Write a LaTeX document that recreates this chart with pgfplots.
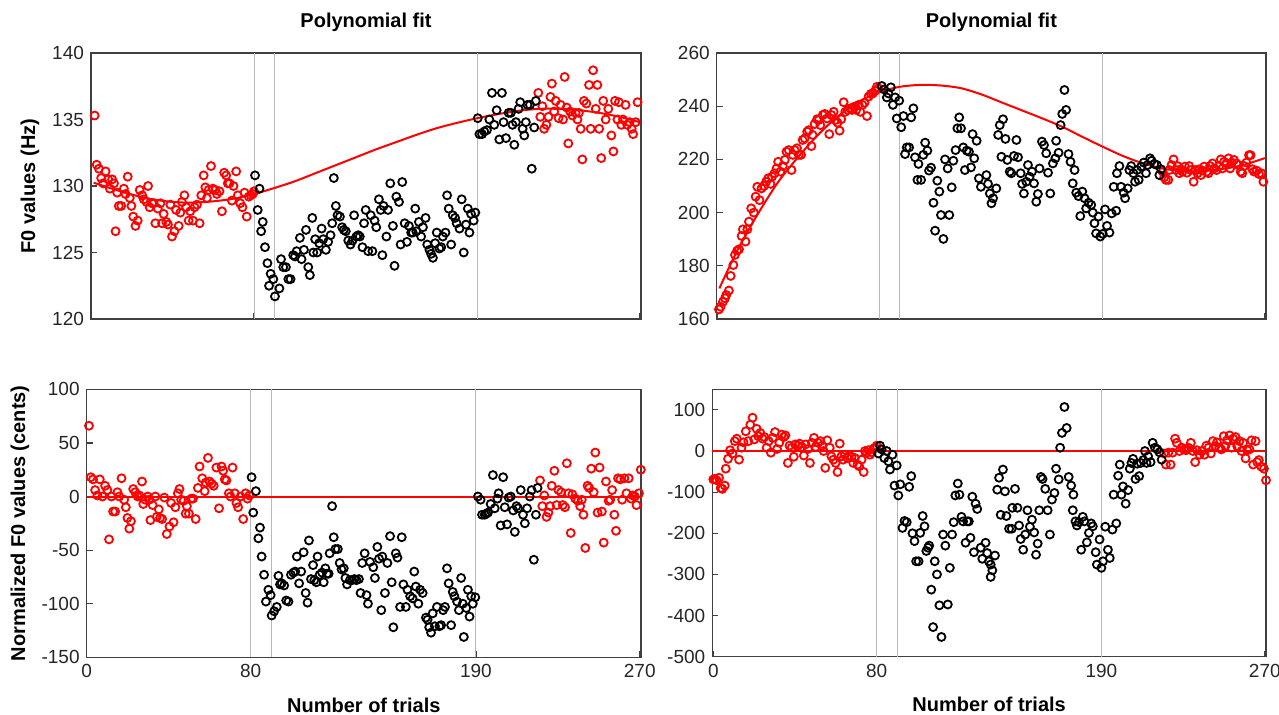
\documentclass[border=0pt]{standalone}
\usepackage{fontspec}
\setmainfont{Liberation Sans}
\usepackage{pgfplots}
\pgfplotsset{compat=1.18}
\pgfplotsset{
  myax/.style={
    scale only axis, anchor=north west,
    xmin=-0.3, xmax=270.6,
    xtick={0,80,190,270},
    tick align=inside, tick pos=left, major tick length=3pt,
    axis line style={black!75, line width=0.7pt},
    every tick/.style={black!75, line width=0.6pt},
    clip=false,
    every axis title shift=0pt,
    /pgf/number format/assume math mode=true,
    ticklabel style={font=\fontsize{9.5}{11}\selectfont, text=black!85},
    label style={font=\bfseries\fontsize{10}{12}\selectfont},
    title style={font=\bfseries\fontsize{10}{12}\selectfont},
  },
  vl/.style={gray!55, line width=0.5pt, forget plot},
  rpt/.style={only marks, mark=o, mark size=2pt, red, line width=0.9pt, mark options={line width=0.9pt}},
  kpt/.style={only marks, mark=o, mark size=2pt, black, line width=0.9pt, mark options={line width=0.9pt}},
  fit/.style={red, line width=1pt, no marks, smooth},
}
\begin{document}
\begin{tikzpicture}
\path[use as bounding box] (0pt,0pt) rectangle (639.5pt,-357pt);

% ---------------- top left
\begin{axis}[myax, at={(45.5pt,-26.5pt)}, width=275pt, height=133pt,
  ymin=120, ymax=140, ytick={120,125,130,135,140}, xticklabels={},
  title={Polynomial fit}, title style={at={(axis description cs:0.5,1.1165)}, anchor=center},
  ylabel={F0 values (Hz)}, ylabel style={at={(axis description cs:-0.111,0.5)}, anchor=center}]
\addplot[vl] coordinates {(80,120) (80,140)};
\addplot[vl] coordinates {(90,120) (90,140)};
\addplot[vl] coordinates {(190,120) (190,140)};
\addplot[rpt] coordinates {(1.5,135.3)(2.5,131.6)(3.6,131.3)(4.7,130.6)(5.7,130.2)(6.9,131.1)(8.2,130.5)(9.0,129.8)(10.1,130.5)(11.0,130.2)(11.8,126.6)(12.6,129.5)(13.4,128.5)(14.6,128.5)(15.9,129.8)(16.7,129.4)(17.8,130.7)(18.8,129.1)(19.6,128.5)(20.5,127.7)(21.6,127.0)(22.7,127.4)(23.7,129.7)(24.9,129.3)(25.7,129.0)(27.0,128.8)(27.8,130.0)(28.6,128.4)(29.8,128.7)(30.6,128.7)(31.4,127.2)(32.6,128.3)(33.9,128.7)(34.7,127.2)(35.5,127.9)(36.8,127.3)(37.6,127.1)(38.8,128.6)(39.6,126.2)(40.8,126.6)(41.6,128.2)(42.9,127.0)(43.7,128.0)(44.5,128.8)(45.7,129.3)(46.6,128.4)(47.8,127.4)(48.6,128.1)(49.9,127.4)(50.7,128.4)(51.9,128.6)(53.2,127.2)(54.0,129.3)(55.2,130.8)(56.0,129.9)(56.8,129.1)(57.6,129.7)(58.8,131.5)(59.7,129.8)(60.9,129.7)(61.7,129.4)(63.0,129.6)(64.2,128.1)(65.3,131.0)(66.3,130.8)(67.1,130.2)(67.9,130.2)(69.1,128.9)(69.9,130.0)(71.2,131.1)(72.0,129.3)(73.2,128.7)(74.3,128.4)(75.3,129.5)(76.4,127.7)(77.4,129.2)(78.4,129.3)(79.4,129.4)(80.0,129.6)
(220,137.0)(221,135.2)(222,136.0)(222.9,134.3)(224,134.6)(225,135.2)(226,136.7)(226.7,137.7)(227.8,135.6)(228.6,136.4)(230,135.1)(231,136.1)(232.2,135.0)(233,138.2)(234,135.9)(234.8,133.2)(235.7,135.6)(236.8,135.3)(238.4,135.5)(239.3,135.0)(240,135.5)(240.9,134.3)(241.7,132.0)(242.5,136.4)(243.7,136.2)(245,137.6)(245.8,134.3)(247,138.7)(248.3,135.8)(249.1,137.6)(250,134.3)(251,132.1)(252,136.4)(253.2,135.0)(254.5,135.8)(256,133.8)(257,132.6)(257.8,136.4)(259,135.0)(259.7,136.3)(260.9,134.6)(261.7,135.0)(263,136.1)(263.8,134.6)(265,134.8)(266,134.3)(266.7,133.9)(268,134.8)(268.9,136.3)};
\addplot[kpt] coordinates {(80.5,130.8)(82.7,129.8)(81.8,128.2)(84.3,127.3)(83.5,126.6)(85.4,125.4)(86.6,124.2)(88.2,123.4)(87.4,122.5)(90.3,121.7)(89.5,123.0)(92.5,122.3)(93.3,124.5)(94.4,123.9)(95.7,123.9)(96.9,123.0)(98.0,123.0)(99.3,124.8)(100.2,124.7)(101.0,125.1)(102.6,126.1)(103.4,124.5)(104.6,125.2)(105.6,126.7)(106.7,123.9)(107.5,123.3)(108.7,127.6)(109.2,125.0)(110.1,126.0)(111.1,125.0)(112.1,125.7)(113.3,126.8)(114.1,126.0)(115.4,125.2)(116.5,125.8)(117.7,126.3)(118.5,127.2)(119.3,130.6)(120.3,128.5)(121.1,127.8)(122.3,127.7)(123.4,126.9)(124.2,126.7)(125.2,126.6)(126.4,125.9)(127.5,125.6)(128.5,125.9)(129.3,127.8)(130.4,126.2)(131.3,126.3)(132.1,126.2)(133.4,125.4)(134.2,127.2)(135.0,128.2)(136.2,125.1)
(137.5,127.8)(138.3,125.1)(139.4,127.4)(140.2,126.9)(141.5,129.0)(142.4,128.2)(143.2,124.8)(143.8,128.5)(145.2,126.2)(146.0,128.2)(147.1,130.2)(148.4,127.0)(149.2,124.0)(150.1,129.2)(151.4,128.8)(152.2,125.6)(153.0,130.3)(154.2,127.2)(155.3,125.8)(156.3,127.0)(157.4,126.5)(158.2,126.5)(159.4,128.3)(159.9,126.6)(161.2,127.3)(162.3,126.2)(163.2,126.9)(164.5,127.6)(165.3,125.6)(166.4,125.2)(167.2,124.9)(168.1,124.6)(169.2,125.7)(170.0,126.5)(171.3,125.3)(172.2,125.4)(173.0,126.2)(174.3,126.5)(175.1,129.3)(175.9,128.3)(177.1,125.6)(177.9,127.8)(179.0,127.6)(179.8,127.2)(181.2,126.8)(182.3,129.0)(183.3,125.0)(184.4,127.1)(185.3,128.3)(186.1,126.5)(186.9,127.9)(188.2,127.4)(189.0,128.0)
(190.2,135.1)(191.0,133.9)(192.3,133.9)(193.4,134.1)(194.7,134.2)(195.9,135.0)(197.2,137.0)(198.3,134.6)(199.5,135.7)(200.8,133.5)(202.1,137.0)(202.9,134.8)(204.1,133.6)(205.4,135.5)(206.5,135.5)(207.3,134.6)(208.2,133.1)(209.0,134.8)(210.3,135.8)(211.1,136.3)(212.3,134.3)(213.1,133.8)(213.9,134.8)(214.7,136.1)(215.9,136.1)(216.8,131.3)(218.0,134.4)(218.8,136.4)};
\addplot[fit] coordinates {(1,130.25)(10,129.8)(20,129.35)(30,129.0)(40,128.8)(50,128.75)(60,128.85)(70,129.05)(80,129.4)(90,129.85)(100,130.35)(110,130.95)(120,131.55)(130,132.15)(140,132.75)(150,133.3)(160,133.85)(170,134.35)(180,134.75)(190,135.1)(200,135.4)(210,135.65)(220,135.8)(230,135.8)(240,135.7)(250,135.5)(260,135.2)(270,134.8)};
\end{axis}

% ---------------- top right
\begin{axis}[myax, at={(358.35pt,-26.5pt)}, width=274.65pt, height=133pt,
  ymin=160, ymax=260, ytick={160,180,200,220,240,260}, xticklabels={},
  title={Polynomial fit}, title style={at={(axis description cs:0.5,1.1165)}, anchor=center}]
\addplot[vl] coordinates {(80,160) (80,260)};
\addplot[vl] coordinates {(90,160) (90,260)};
\addplot[vl] coordinates {(190,160) (190,260)};
\addplot[rpt] coordinates {(0.8,163.6)(1.6,164.6)(2.8,166.5)(3.8,167.8)(4.4,169)(5.7,170.7)(6.6,176.2)(7.9,180.3)(8.7,184.1)(9.8,185.7)(10.7,186.2)(12.0,191.2)(12.6,193.7)(13.9,189.1)(14.8,193.7)(15.6,196.6)(16.7,201.6)(18.0,200.0)(18.9,206)(19.7,209.7)(20.8,204.7)(21.8,209.1)(23.0,210)(24.1,211.6)(25.1,212.9)(26.2,210.8)(27.0,213.5)(28.2,214.8)(29.2,216.6)(30.0,219.1)(31.1,215.4)(32.3,217.5)(33.3,219.8)(34.1,222.9)(35.2,223.5)(36.6,216)(37.2,221.7)(38.2,223.5)(39.3,224.2)(40.2,221.7)(41.3,221.7)(42.1,227.3)(43.1,227.9)(44.3,230.4)(45.1,231)(46.4,225)(47.0,229.2)(48.0,233.3)(49.2,235.1)(50.0,234.8)(50.8,232.9)(52.0,236.7)(53.0,237.1)(54.1,235.4)(55.2,229.5)(56.2,236.7)(57.4,237.9)(58.2,234.8)(59.3,233.8)(60.3,230.8)(61.1,235.1)(62.3,241.5)(63.1,237.9)(64.4,238.6)(65.6,239.2)(66.4,238.6)(67.5,239.8)(68.5,238.6)(69.7,240.5)(70.5,237.9)(71.6,240.5)(72.6,241.3)(73.8,236.3)(74.6,243.6)(75.7,244.6)(76.7,244.8)(77.9,245.8)(78.7,247.3)(79.5,246.7)
(219.6,215.4)(220.4,213.3)(221.2,212.3)(222.4,212.3)(222.9,216)(224.0,217.9)(225.0,220)(226.2,216)(227.0,217.5)(227.8,214.8)(228.6,216.3)(229.4,215.4)(230.6,217.3)(231.6,215)(232.7,217.5)(233.5,216)(234.9,211.6)(235.7,216)(236.8,214.8)(237.6,216.3)(238.5,214.1)(239.3,215.8)(240.1,217.3)(241.4,215.4)(242.2,214.8)(243.0,217.5)(244.2,218.5)(245.0,216.6)(246.2,216)(247.5,217.5)(248.3,220)(249.1,216.6)(249.9,219.1)(251.1,218.5)(252.1,220.4)(252.9,216.6)(253.7,218.8)(254.8,219.8)(256.0,218.5)(257.0,217.9)(258.1,215.4)(258.9,214.8)(259.8,217.5)(260.9,218.8)(262.2,221.6)(263.0,221.6)(263.9,216.3)(264.7,215.4)(266.0,215.8)(267.1,214.5)(268.3,214.8)(269.3,211.6)};
\addplot[kpt] coordinates {(81.1,247.6)(82.3,246.3)(83.6,243.3)(84.4,244.8)(85.6,247.1)(86.6,240.5)(87.7,243.3)(88.5,235.4)(89.7,242.1)(90.7,232.1)(91.8,236.3)(92.6,222.0)(93.4,224.5)(94.6,224.5)(95.6,235.8)(96.7,239.2)(97.5,220.8)(98.7,212.3)(99.2,218.3)(100.5,212.3)(101.6,221.7)(102.5,226.3)(103.6,223.3)(104.4,215.8)(105.4,216.9)(106.6,203.7)(107.4,193.2)(108.5,212.0)(109.5,207.9)(110.3,199.1)(111.5,190.1)(112.3,220.0)(113.6,216.6)(114.4,199.1)(115.6,209.5)(116.4,219.5)(117.5,223.5)(118.4,231.7)(119.3,235.8)(120.2,231.7)(121.3,224.5)(122.1,216.0)(123.0,223.3)(124.1,222.9)(125.1,217.0)(125.9,229.5)(126.7,220.4)(127.9,227.0)(129.0,212.9)(130.0,209.7)
(132.7,214.1)(133.5,210.8)(134.4,207.2)(135.2,203.5)(136.0,205.4)(137.6,209.1)(138.5,229.2)(139.3,232.9)(140.9,235.1)(142.1,227.7)(140.1,221.0)(143.0,219.8)(144.2,215.4)(145.0,214.8)(146.3,221.3)(147.5,227.3)(148.3,220.8)(149.6,214.8)(150.3,210.8)(151.2,207.2)(152.4,211.6)(153.2,217.9)(154.0,213.5)(155.2,215.4)(156.2,211.0)(157.3,204.1)(158.1,207.0)(158.9,216.6)(160.1,226.7)(161.1,225.4)(162.2,222.3)(163.1,215.0)(164.2,207.2)(165.5,218.5)(166.7,220.4)(167.1,227.0)(168.3,222.5)(169.3,232.9)(170.1,237.1)(171.2,246.1)(172.0,238.6)(173.2,222.0)(174.2,219.1)(175.3,211.0)(176.2,216.0)(177.0,207.5)(178.1,206.2)(179.0,198.7)(180.0,207.9)(181.1,205.4)(181.9,201.6)(183.1,203.7)(184.4,202.9)(185.2,200.0)(186.0,196.0)(186.8,192.2)(188.0,198.5)(188.9,191.0)(190.1,192.0)(191.2,201.2)(192.2,195.0)(193.4,192.5)(194.5,199.7)(195.5,209.7)(196.7,200.7)(197.1,214.8)(198.3,217.5)(199.1,209.7)(200.4,207.5)(201.1,205.4)(202.4,209.1)(203.2,216.0)(204.1,217.5)(205.2,214.8)(206.0,211.6)(207.0,216.0)(207.8,212.3)(209.0,217.3)(210.3,218.8)(211.4,214.8)(212.2,217.9)(213.4,220.4)(214.2,219.5)(215.5,218.3)(216.8,217.9)(218.0,214.1)(218.8,216.3)};
\addplot[fit] coordinates {(1,171.5)(10,186)(20,199.5)(30,211.5)(40,221)(50,229.5)(60,236.5)(70,241.8)(80,245.3)(90,247.3)(100,248)(110,247.8)(120,246.8)(130,244.5)(140,241.5)(150,238.5)(160,235.5)(170,232.3)(180,228.5)(190,224.8)(200,221.3)(210,218.5)(220,216.5)(230,215.6)(240,215.6)(250,216.5)(260,218)(270,220.5)};
\end{axis}

% ---------------- bottom left
\begin{axis}[myax, at={(43.35pt,-194.65pt)}, width=277.15pt, height=134pt,
  xmin=0,
  ymin=-150, ymax=100, ytick={-150,-100,-50,0,50,100},
  xlabel={Number of trials}, xlabel style={at={(axis description cs:0.5,-0.178)}, anchor=center},
  ylabel={Normalized F0 values (cents)}, ylabel style={at={(axis description cs:-0.1204,0.5)}, anchor=center}]
\addplot[vl] coordinates {(80,-150) (80,100)};
\addplot[vl] coordinates {(90,-150) (90,100)};
\addplot[vl] coordinates {(190,-150) (190,100)};
\addplot[rpt] coordinates {(1.1,66)(2.0,18)(3.1,16)(4.1,6)(5.2,1)(6.4,16)(7.7,0)(9.0,10)(10.1,6)(10.9,-40)(12.1,0)(12.9,-14)(13.9,-14)(15.0,4)(15.9,0)(17.0,17)(18.3,-3)(19.1,-10)(19.9,-20)(20.8,-30)(21.6,-23)(22.7,7)(23.7,4)(24.9,0)(25.7,1)(27.0,14)(27.6,-7)(28.6,-3)(29.8,0)(30.6,-3)(31.1,-22)(32.2,-8)(33.5,0)(34.2,-19)(35.2,-12)(35.8,-20)(36.8,-21)(37.9,-1)(39.1,-35)(40.4,-28)(41.2,-6)(42.4,-24)(43.3,-10)(44.5,3)(45.3,7)(46.1,-3)(47.3,-4)(48.3,-16)(48.9,-9)(49.9,-16)(51.0,-2)(51.9,-2)(53.2,-21)(54.3,8)(55.1,28)(56.4,17)(57.6,5)(58.1,13)(59.2,36)(60.0,14)(61.0,12)(62.0,10)(63.3,27)(64.6,-11)(65.8,28)(66.6,24)(67.4,16)(68.2,15)(69.4,3)(70.2,0)(71.2,27)(72.3,3)(73.1,-6)(73.9,-10)(75.1,0)(76.4,-21)(77.6,3)(78.5,-2)(79.4,1)
(221.3,15)(222.4,-9)(223.4,1)(224.5,-19)(225.4,-15)(226.2,-9)(227.0,10)(228.3,24)(229.4,-8)(230.3,6)(231.6,4)(232.4,-8)(233.5,-10)(234.4,31)(235.2,3)(236.3,-34)(237.1,2)(238.5,-2)(239.8,-4)(240.9,-9)(241.7,-3)(242.5,-17)(243.4,-48)(244.5,10)(245.3,8)(246.3,26)(247.5,4)(248.3,41)(249.4,-15)(250.4,27)(251.5,-14)(252.4,-43)(253.5,14)(254.8,-4)(255.6,-3)(256.5,6)(257.6,-17)(258.4,-32)(259.4,17)(260.5,16)(261.4,-3)(262.5,17)(263.5,3)(264.6,17)(265.8,-2)(266.6,1)(267.6,0)(268.4,-8)(269.6,3)(270.5,25)};
\addplot[kpt] coordinates {(80.5,18)(82.6,5)(81.3,-15)(84.6,-29)(83.8,-39)(85.4,-56)(86.6,-73)(87.5,-98)(88.7,-87)(89.8,-92)(90.3,-111)(91.5,-107)(92.8,-103)(93.6,-74)(94.4,-82)(95.2,-81)(96.4,-83)(97.4,-97)(98.5,-98)(99.7,-73)(100.9,-71)(101.8,-70)(102.6,-56)(103.7,-81)(104.7,-70)(105.9,-52)(106.9,-90)(107.8,-99)(108.5,-41)(109.5,-77)(110.5,-64)(111.1,-78)(112.1,-80)(112.7,-56)(113.7,-73)(114.9,-71)(115.7,-80)(116.5,-67)(117.3,-72)(118.1,-72)(118.6,-53)(119.8,-9)(120.6,-38)(121.4,-49)(122.6,-49)(123.5,-62)(124.4,-68)(125.5,-67)(126.3,-76)(127.1,-82)(128.5,-78)(129.6,-78)(130.7,-77)(131.7,-78)(132.9,-77)(133.7,-90)(134.5,-62)(135.7,-53)(136.6,-92)(137.3,-100)
(138.3,-61)(139.9,-66)(140.7,-76)(141.9,-47)(142.7,-58)(143.8,-106)(144.3,-56)(145.6,-90)(146.8,-62)(148.1,-37)(148.9,-80)(149.7,-122)(150.9,-53)(151.7,-57)(153.0,-103)(153.8,-38)(154.6,-82)(155.8,-103)(156.6,-87)(157.9,-93)(159.1,-95)(159.9,-70)(160.7,-84)(161.9,-100)(162.8,-87)(164.0,-90)(165.6,-113)(166.4,-115)(167.2,-122)(168.1,-127)(168.9,-109)(170.0,-121)(171.0,-103)(172.2,-121)(173.0,-120)(174.0,-106)(174.9,-103)(175.9,-67)(176.7,-81)(177.9,-120)(178.7,-89)(179.5,-93)(180.8,-98)(181.7,-106)(182.8,-76)(183.6,-100)(184.1,-131)(185.3,-104)(186.1,-87)(186.9,-112)(187.7,-93)(188.5,-100)(189.7,-94)
(191.0,0)(192.3,-3)(193.0,-17)(194.3,-17)(195.1,-16)(195.9,-15)(197.2,-7)(198.3,20)(199.2,-11)(200.5,-2)(201.1,3)(202.1,-27)(203.3,18)(204.1,-10)(205.2,-26)(206.0,-1)(207.0,0)(208.2,-13)(209.0,-33)(209.8,-9)(210.6,-11)(211.9,6)(213.0,-17)(213.9,-25)(215.0,-11)(216.3,0)(217.2,6)(218.3,-59)(219.3,-17)(220.1,8)};
\addplot[red, line width=1pt, no marks] coordinates {(0,0)(270.6,0)};
\end{axis}

% ---------------- bottom right
\begin{axis}[myax, at={(356.15pt,-194.65pt)}, width=276.85pt, height=133.7pt,
  xmin=-0.5,
  ymin=-500, ymax=150, ytick={-500,-400,-300,-200,-100,0,100},
  xlabel={Number of trials}, xlabel style={at={(axis description cs:0.5,-0.178)}, anchor=center}]
\addplot[vl] coordinates {(80,-500) (80,150)};
\addplot[vl] coordinates {(90,-500) (90,150)};
\addplot[vl] coordinates {(190,-500) (190,150)};
\addplot[rpt] coordinates {(0,-69)(0.7,-68)(1.6,-71)(2.8,-65)(3.6,-90)(4.4,-92)(5.6,-84)(6.1,-43)(7.2,-19)(8.2,2)(9.4,-6)(10.5,24)(11.5,30)(12.6,-21)(13.8,8)(14.8,21)(15.9,48)(17.1,24)(18.1,64)(19.2,81)(20.0,28)(21.2,54)(22.0,36)(23.0,44)(24.1,30)(25.0,34)(26.1,8)(27.1,24)(28.2,-4)(29.1,32)(30.2,46)(31.2,5)(32.3,20)(33.5,40)(34.5,34)(35.3,38)(36.5,-29)(37.3,13)(38.4,8)(39.4,-14)(40.1,16)(41.4,13)(42.2,18)(43.3,10)(44.3,-11)(45.2,16)(46.3,5)(47.3,-29)(48.3,20)(49.3,32)(50.1,10)(51.2,20)(52.4,24)(53.2,13)(54.0,0)(54.8,-41)(55.8,26)(57.0,8)(57.8,-13)(58.8,-21)(59.9,-29)(60.8,-51)(61.9,18)(62.7,-13)(63.5,-21)(64.4,-9)(65.7,-17)(66.5,-11)(67.7,-14)(68.5,-29)(69.3,-17)(70.6,-33)(71.4,-37)(72.6,-21)(73.6,-51)(74.2,0)(75.0,-4)(75.9,2)(76.7,-9)(77.5,-3)(78.3,5)(79.1,8)(80.0,13)
(220.7,-6)(221.6,-33)(222.8,-4)(223.9,-33)(224.9,-4)(226.1,30)(226.9,20)(228.2,0)(229.4,8)(230.5,4)(231.5,2)(232.6,8)(233.8,20)(234.8,0)(235.9,-27)(236.8,2)(238.1,-9)(239.2,0)(240.4,-9)(241.4,13)(242.5,8)(243.6,-6)(244.6,24)(245.8,12)(246.6,21)(247.7,8)(248.7,4)(249.9,36)(250.7,12)(251.5,26)(252.8,38)(253.7,8)(254.5,30)(255.7,34)(256.5,12)(257.6,24)(258.6,0)(259.4,20)(260.6,-18)(261.4,2)(262.5,4)(263.5,26)(264.3,-33)(265.5,24)(266.3,-27)(267.1,-22)(268.3,-38)(269.6,-43)(270.6,-71)};
\addplot[kpt] coordinates {(80.8,-6)(81.6,13)(82.4,4)(83.7,-17)(84.9,0)(85.7,-25)(86.5,-45)(87.7,-9)(88.7,-84)(89.8,-35)(90.6,-108)(91.5,-81)(92.6,-187)(93.6,-170)(94.7,-173)(95.9,-87)(96.9,-61)(97.5,-200)(98.5,-219)(99.3,-268)(100.5,-268)(101.3,-199)(102.5,-158)(103.4,-183)(104.3,-243)(105.1,-235)(105.7,-230)(106.7,-337)(107.6,-428)(108.4,-268)(109.5,-300)(110.7,-375)(111.7,-452)(112.5,-203)(113.6,-230)(114.8,-373)(115.8,-284)(116.9,-203)(117.7,-173)(118.5,-108)(119.7,-79)(120.5,-106)(121.5,-160)(122.3,-171)(123.5,-223)(124.3,-171)(125.1,-171)(125.9,-211)(126.8,-111)(127.6,-246)(128.4,-128)(129.2,-141)(130.9,-235)(131.7,-262)
(133.3,-223)(134.1,-248)(134.9,-268)(135.8,-276)(136.6,-290)(135.8,-306)(137.9,-254)(139.0,-94)(139.9,-65)(141.8,-45)(142.8,-98)(140.7,-155)(143.5,-158)(144.8,-189)(146.1,-189)(146.4,-138)(147.7,-92)(148.9,-138)(149.7,-181)(150.5,-214)(151.7,-240)(152.7,-203)(153.8,-144)(155.0,-184)(156.0,-167)(157.1,-198)(158.0,-252)(158.8,-225)(159.6,-144)(160.4,-63)(161.2,-68)(162.5,-92)(163.7,-144)(164.8,-203)(165.8,-118)(167.0,-102)(167.8,-43)(169.1,-69)(169.8,8)(170.7,44)(171.9,107)(173.0,56)(174.0,-63)(175.2,-84)(176.3,-106)(176.0,-144)(177.3,-171)(178.0,-181)(179.0,-173)(180.1,-240)(180.9,-160)(181.7,-171)(182.9,-222)(183.9,-199)(185.0,-176)(185.8,-183)(187.2,-246)(187.8,-276)(189.1,-215)(190.0,-284)(190.8,-268)(191.9,-184)(193.2,-240)(194.1,-260)(195.4,-191)(196.0,-106)(197.3,-176)(198.2,-60)(199.0,-33)(199.8,-106)(200.6,-86)(201.9,-128)(203.1,-95)(203.9,-43)(204.7,-29)(205.5,-19)(206.7,-68)(207.5,-31)(208.5,-61)(209.3,-29)(210.5,-22)(211.3,0)(212.1,-29)(212.9,-13)(214.1,-27)(215.1,20)(216.2,8)(217.4,4)(218.4,-3)(219.5,-21)};
\addplot[red, line width=1pt, no marks] coordinates {(-0.5,0)(270.6,0)};
\end{axis}
\end{tikzpicture}
\end{document}
